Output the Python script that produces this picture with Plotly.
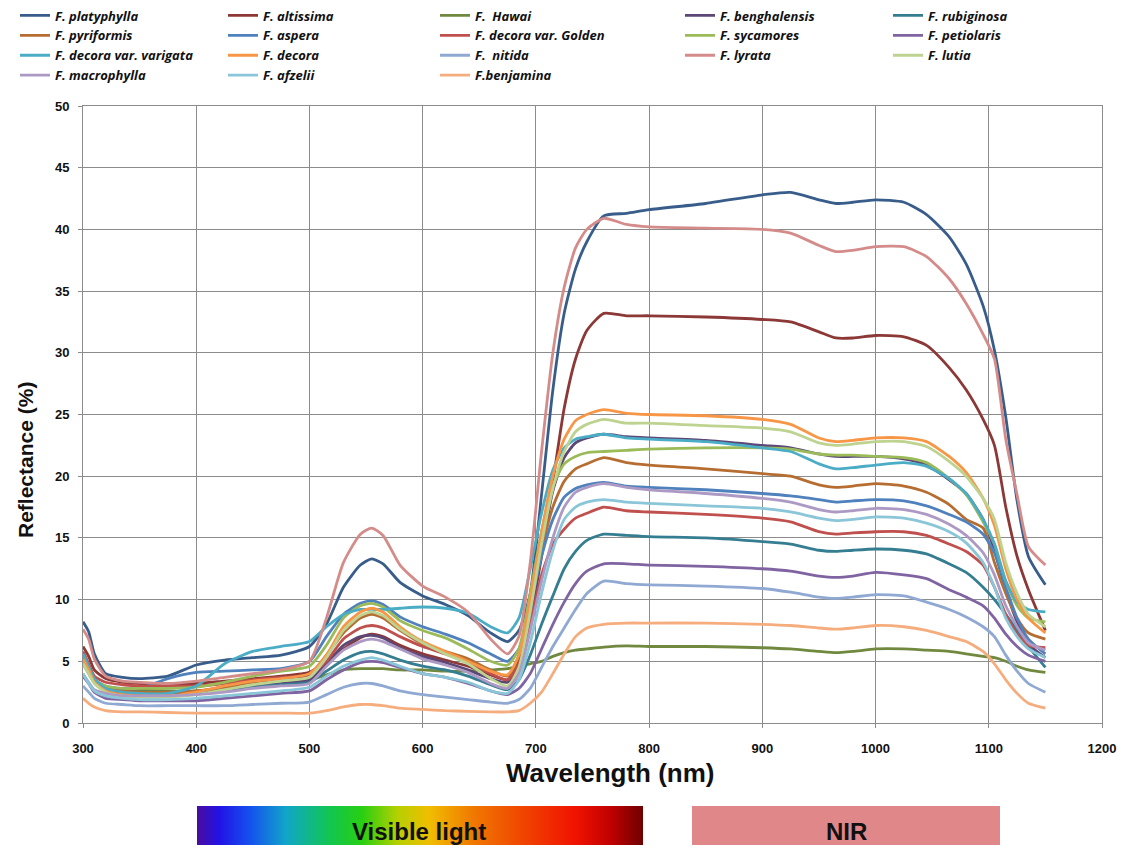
import base64
import plotly.graph_objects as go

# ---------------- data ----------------
wl = [300, 305, 310, 320, 335, 350, 375, 400, 425, 450, 475, 500, 515, 530, 545, 555, 565, 580, 600, 620,
      640, 660, 675, 685, 695, 705, 715, 725, 735, 745, 760, 780, 800, 850, 900, 925, 950, 965, 980, 1000,
      1025, 1045, 1065, 1080, 1095, 1105, 1115, 1125, 1135, 1150]

platyphylla = [8.2, 7.4, 5.6, 4.0, 3.7, 3.6, 3.8, 4.7, 5.1, 5.3, 5.5, 6.2, 8.0, 11.0, 12.8, 13.3, 12.9, 11.4, 10.3, 9.6,
               8.7, 7.3, 6.6, 7.5, 10.5, 18.5, 27.0, 33.2, 36.8, 39.0, 41.1, 41.3, 41.6, 42.1, 42.8, 43.0, 42.4, 42.1, 42.2, 42.4,
               42.2, 41.2, 39.4, 37.2, 33.8, 30.2, 24.8, 18.0, 13.5, 11.2]
altissima = [6.2, 5.4, 4.3, 3.6, 3.3, 3.2, 3.1, 3.2, 3.4, 3.6, 3.8, 4.1, 5.0, 6.0, 6.9, 7.2, 7.0, 6.3, 5.6, 5.1,
             4.6, 3.9, 3.5, 5.0, 8.5, 13.5, 19.5, 25.5, 29.5, 31.8, 33.2, 33.0, 33.0, 32.9, 32.7, 32.5, 31.7, 31.2, 31.2, 31.4,
             31.3, 30.6, 28.8, 27.0, 24.6, 22.5, 17.5, 13.5, 10.8, 7.5]
hawai = [4.8, 4.0, 3.3, 2.9, 2.7, 2.7, 2.6, 2.6, 2.8, 3.0, 3.2, 3.5, 3.9, 4.3, 4.4, 4.4, 4.4, 4.3, 4.3, 4.2,
         4.2, 4.3, 4.4, 4.6, 4.8, 5.0, 5.4, 5.7, 5.9, 6.0, 6.15, 6.25, 6.2, 6.2, 6.1, 6.0, 5.8, 5.7, 5.8, 6.0,
         6.0, 5.9, 5.8, 5.6, 5.4, 5.3, 5.0, 4.6, 4.3, 4.1]
benghalensis = [5.0, 4.2, 3.3, 2.6, 2.4, 2.3, 2.3, 2.4, 2.7, 3.0, 3.2, 3.5, 4.8, 6.3, 7.0, 7.1, 6.9, 6.1, 5.4, 4.9,
                4.3, 3.6, 3.3, 4.6, 8.5, 14.0, 18.8, 21.5, 22.7, 23.1, 23.4, 23.2, 23.1, 22.9, 22.5, 22.3, 21.8, 21.6, 21.6, 21.6,
                21.4, 20.9, 19.7, 18.6, 16.5, 14.0, 10.8, 8.2, 6.4, 5.3]
rubiginosa = [5.3, 4.4, 3.5, 2.8, 2.6, 2.5, 2.5, 2.5, 2.7, 2.9, 3.1, 3.3, 4.2, 5.1, 5.7, 5.8, 5.6, 5.1, 4.6, 4.3,
              3.8, 3.1, 2.7, 3.5, 5.5, 8.0, 10.3, 12.5, 13.9, 14.8, 15.3, 15.2, 15.1, 15.0, 14.7, 14.5, 14.0, 13.9, 14.0, 14.1,
              14.0, 13.7, 12.9, 12.2, 11.0, 10.0, 8.8, 7.5, 6.2, 4.5]
pyriformis = [5.0, 4.2, 3.4, 2.8, 2.6, 2.5, 2.5, 2.6, 2.9, 3.3, 3.6, 3.9, 5.5, 7.3, 8.5, 8.8, 8.5, 7.5, 6.4, 5.8,
              5.2, 4.3, 3.8, 5.5, 9.5, 14.0, 17.5, 19.6, 20.6, 21.0, 21.5, 21.1, 20.9, 20.6, 20.2, 20.0, 19.3, 19.1, 19.2, 19.4,
              19.2, 18.7, 17.7, 16.5, 15.8, 13.0, 10.5, 8.5, 7.3, 6.8]
aspera = [5.0, 4.2, 3.5, 3.0, 2.8, 2.8, 3.6, 4.1, 4.2, 4.3, 4.4, 5.0, 7.0, 8.8, 9.7, 9.9, 9.6, 8.6, 7.8, 7.2,
          6.5, 5.6, 5.0, 6.0, 9.5, 13.5, 16.5, 18.3, 19.0, 19.3, 19.5, 19.2, 19.1, 18.9, 18.6, 18.4, 18.1, 17.9, 18.0, 18.1,
          18.0, 17.6, 16.9, 16.3, 15.3, 13.8, 11.0, 8.5, 6.8, 5.6]
golden = [5.8, 4.8, 3.8, 3.3, 3.1, 3.0, 3.0, 3.0, 3.2, 3.5, 3.7, 3.9, 5.0, 6.8, 7.7, 7.9, 7.7, 7.0, 6.2, 5.6,
          4.9, 4.0, 3.5, 4.8, 8.0, 12.0, 14.5, 15.7, 16.6, 17.0, 17.5, 17.2, 17.1, 16.9, 16.6, 16.3, 15.5, 15.3, 15.4, 15.5,
          15.5, 15.2, 14.5, 13.9, 12.8, 11.0, 8.8, 7.2, 6.3, 6.1]
sycamores = [5.0, 4.2, 3.5, 3.0, 2.8, 2.8, 2.8, 2.9, 3.3, 3.8, 4.2, 4.6, 6.3, 8.5, 9.5, 9.7, 9.4, 8.3, 7.5, 6.9,
             6.0, 5.0, 4.7, 6.0, 10.5, 15.5, 19.2, 21.0, 21.6, 21.9, 22.0, 22.1, 22.2, 22.3, 22.3, 22.2, 21.8, 21.7, 21.7, 21.6,
             21.5, 21.1, 19.8, 18.5, 16.3, 14.5, 11.5, 9.5, 8.5, 8.2]
petiolaris = [3.8, 3.2, 2.5, 2.0, 1.9, 1.8, 1.8, 1.8, 2.0, 2.2, 2.4, 2.6, 3.5, 4.3, 4.9, 5.0, 4.9, 4.5, 4.0, 3.7,
              3.2, 2.6, 2.3, 2.8, 4.0, 6.0, 8.0, 9.8, 11.3, 12.3, 12.9, 12.9, 12.8, 12.7, 12.5, 12.3, 11.9, 11.8, 11.9, 12.2,
              12.0, 11.7, 10.8, 10.2, 9.5, 8.5, 7.2, 6.2, 5.5, 5.0]
varigata = [5.6, 4.6, 3.6, 2.8, 2.5, 2.4, 2.4, 3.0, 4.8, 5.8, 6.2, 6.6, 7.8, 8.8, 9.2, 9.2, 9.2, 9.3, 9.4, 9.3,
            8.9, 7.8, 7.3, 8.5, 12.5, 17.0, 20.5, 22.3, 23.0, 23.2, 23.4, 23.1, 23.0, 22.8, 22.3, 22.0, 21.0, 20.6, 20.7, 20.9,
            21.1, 20.8, 19.8, 18.6, 16.5, 14.5, 11.5, 9.8, 9.2, 9.0]
decora = [5.2, 4.3, 3.3, 2.6, 2.3, 2.2, 2.2, 2.5, 3.0, 3.4, 3.6, 4.0, 5.5, 7.8, 9.0, 9.3, 9.0, 7.8, 6.6, 5.8,
          5.0, 4.2, 3.9, 5.5, 10.0, 15.5, 20.0, 23.0, 24.5, 25.0, 25.4, 25.1, 25.0, 24.9, 24.6, 24.2, 23.1, 22.8, 22.9, 23.1,
          23.1, 22.8, 21.6, 20.3, 18.2, 16.0, 12.5, 10.0, 8.5, 7.3]
nitida = [3.0, 2.5, 2.0, 1.6, 1.5, 1.4, 1.4, 1.4, 1.4, 1.5, 1.6, 1.7, 2.3, 2.9, 3.2, 3.2, 3.0, 2.6, 2.3, 2.1,
          1.9, 1.7, 1.6, 1.9, 2.8, 4.5, 6.2, 7.7, 9.2, 10.5, 11.5, 11.3, 11.2, 11.1, 10.9, 10.6, 10.2, 10.1, 10.2, 10.4,
          10.3, 9.8, 9.2, 8.6, 7.8, 7.0, 5.5, 4.2, 3.2, 2.5]
lyrata = [7.6, 6.8, 5.2, 3.8, 3.4, 3.3, 3.2, 3.4, 3.7, 4.0, 4.3, 5.0, 8.5, 13.0, 15.3, 15.8, 15.2, 12.8, 11.1, 10.2,
          9.0, 6.8, 5.6, 7.0, 13.0, 22.0, 30.0, 35.3, 38.5, 40.0, 40.9, 40.4, 40.2, 40.1, 40.0, 39.7, 38.7, 38.2, 38.3, 38.6,
          38.6, 37.8, 36.0, 34.0, 31.5, 29.5, 23.0, 18.5, 14.3, 12.8]
lutia = [4.8, 4.0, 3.2, 2.5, 2.2, 2.1, 2.1, 2.3, 2.7, 3.1, 3.4, 3.7, 5.3, 7.5, 8.7, 9.0, 8.7, 7.6, 6.5, 5.6,
         4.8, 3.6, 3.0, 4.5, 9.0, 14.5, 19.0, 22.0, 23.6, 24.2, 24.6, 24.3, 24.3, 24.1, 23.9, 23.6, 22.7, 22.5, 22.6, 22.8,
         22.8, 22.4, 21.2, 20.0, 18.2, 16.5, 13.0, 10.5, 8.8, 7.8]
macrophylla = [4.0, 3.3, 2.7, 2.4, 2.2, 2.2, 2.2, 2.3, 2.5, 2.8, 3.0, 3.2, 4.6, 5.9, 6.6, 6.8, 6.6, 6.0, 5.2, 4.7,
               4.1, 3.2, 2.8, 4.0, 7.5, 11.5, 15.0, 17.5, 18.7, 19.1, 19.4, 19.1, 18.9, 18.6, 18.2, 17.9, 17.3, 17.1, 17.2, 17.4,
               17.3, 16.9, 16.1, 15.2, 13.8, 12.0, 9.5, 7.8, 6.5, 5.9]
afzelii = [4.0, 3.2, 2.6, 2.2, 2.0, 1.9, 1.9, 2.0, 2.2, 2.4, 2.6, 2.9, 3.8, 4.6, 5.1, 5.3, 5.1, 4.6, 4.0, 3.7,
           3.3, 2.6, 2.4, 3.5, 6.5, 10.5, 14.0, 16.5, 17.5, 17.9, 18.1, 17.9, 17.8, 17.6, 17.4, 17.1, 16.6, 16.4, 16.5, 16.7,
           16.6, 16.2, 15.5, 14.6, 13.0, 11.0, 8.5, 7.0, 6.0, 5.3]
benjamina = [2.0, 1.6, 1.3, 1.0, 0.9, 0.9, 0.85, 0.8, 0.8, 0.8, 0.8, 0.8, 1.0, 1.3, 1.5, 1.5, 1.4, 1.2, 1.1, 1.0,
             0.95, 0.9, 0.9, 1.0, 1.6, 2.5, 4.0, 5.6, 7.0, 7.7, 8.0, 8.1, 8.1, 8.1, 8.0, 7.9, 7.7, 7.6, 7.7, 7.9,
             7.8, 7.5, 7.0, 6.6, 5.8, 4.8, 3.5, 2.4, 1.6, 1.2]

series_names = ["F. platyphylla", "F. altissima", "F.  Hawai", "F. benghalensis", "F. rubiginosa",
                "F. pyriformis", "F. aspera", "F. decora var. Golden", "F. sycamores", "F. petiolaris",
                "F. decora var. varigata", "F. decora", "F.  nitida", "F. lyrata", "F. lutia",
                "F. macrophylla", "F. afzelii", "F.benjamina"]
series_values = [platyphylla, altissima, hawai, benghalensis, rubiginosa,
                 pyriformis, aspera, golden, sycamores, petiolaris,
                 varigata, decora, nitida, lyrata, lutia,
                 macrophylla, afzelii, benjamina]
series_colors = ["#385D8A", "#8C3836", "#71893F", "#5C4776", "#357D91",
                 "#B66D31", "#4F81BD", "#C0504D", "#9BBB59", "#8064A2",
                 "#4BACC6", "#F79646", "#8FA9D2", "#D48C8A", "#BDD38F",
                 "#AD9AC4", "#8AC6D8", "#F5AD7E"]

x_ticks = [300, 400, 500, 600, 700, 800, 900, 1000, 1100, 1200]
y_ticks = [0, 5, 10, 15, 20, 25, 30, 35, 40, 45, 50]

for v in series_values:
    assert len(v) == len(wl)

# ---------------- figure ----------------
FONT = "Liberation Sans, Arial, sans-serif"
LEG_FONT = "Open Sans, Liberation Sans, sans-serif"
N_COLS = 5
legend_ids = ["legend", "legend2", "legend3", "legend4", "legend5"]
legend_col_px = [15, 223, 435, 680, 888]   # left edge of each legend column (page px)

fig = go.Figure()
for i, (name, vals, col) in enumerate(zip(series_names, series_values, series_colors)):
    fig.add_trace(go.Scatter(x=wl, y=vals, name=name, mode="lines", legend=legend_ids[i % N_COLS],
                             line=dict(color=col, width=2.8, shape="spline", smoothing=0.6)))

OFF = 8  # page body margin
W, H = 1128 - 2 * OFF, 853 - 2 * OFF
ML, MT = 83 - OFF, 106 - OFF
MR = W - (1102 - OFF)
MB = H - (723 - OFF)
pw, ph = W - ML - MR, H - MT - MB


def px_x(p):
    return (p - OFF - ML) / pw


def px_y(p):
    return (H - MB - (p - OFF)) / ph


# gradient bar (visible light) as SVG image
stops = [(0.0, "#4B0C9E"), (0.05, "#2212E6"), (0.12, "#1452EE"), (0.2, "#10A6C8"), (0.3, "#12C64E"),
         (0.37, "#28CF12"), (0.45, "#B6D000"), (0.52, "#F0BE00"), (0.62, "#F07800"), (0.75, "#F03C00"),
         (0.85, "#F01200"), (0.93, "#BE0000"), (1.0, "#6E0000")]
stop_xml = "".join(f'<stop offset="{o}" stop-color="{c}"/>' for o, c in stops)
svg = ('<svg xmlns="http://www.w3.org/2000/svg" width="446" height="46" viewBox="0 0 446 46" '
       'preserveAspectRatio="none"><defs><linearGradient id="g" x1="0" y1="0" x2="1" y2="0">'
       + stop_xml + '</linearGradient></defs><rect width="446" height="46" fill="url(#g)"/></svg>')
src = "data:image/svg+xml;base64," + base64.b64encode(svg.encode()).decode()

vx0, vx1, nx0, nx1 = 197, 643, 692, 1000
by0, by1 = 806, 852
fig.add_layout_image(dict(source=src, xref="paper", yref="paper", x=px_x(vx0), y=px_y(by0),
                          sizex=px_x(vx1) - px_x(vx0), sizey=px_y(by0) - px_y(by1),
                          xanchor="left", yanchor="top", sizing="stretch", layer="above"))
fig.add_shape(type="rect", xref="paper", yref="paper", x0=px_x(nx0), x1=px_x(nx1),
              y0=px_y(by1), y1=px_y(by0), fillcolor="#E0878A", line=dict(width=0))
fig.add_annotation(text="<b>Visible light</b>", xref="paper", yref="paper", x=px_x(419), y=px_y(831),
                   xanchor="center", yanchor="middle",
                   showarrow=False, font=dict(family=FONT, size=24, color="#111111"))
fig.add_annotation(text="<b>NIR</b>", xref="paper", yref="paper", x=px_x(846), y=px_y(831),
                   xanchor="center", yanchor="middle",
                   showarrow=False, font=dict(family=FONT, size=24, color="#111111"))
# axis titles (placed where the reference puts them)
fig.add_annotation(text="<b>Wavelength (nm)</b>", xref="paper", yref="paper", x=px_x(610), y=px_y(773),
                   xanchor="center", yanchor="middle",
                   showarrow=False, font=dict(family=FONT, size=26, color="#111111"))
fig.add_annotation(text="<b>Reflectance (%)</b>", xref="paper", yref="paper", x=px_x(25), y=px_y(460),
                   xanchor="center", yanchor="middle", textangle=-90,
                   showarrow=False, font=dict(family=FONT, size=21, color="#111111"))

legend_style = dict(orientation="v", xanchor="left", yanchor="top", itemwidth=30, tracegroupgap=0,
                    font=dict(family=LEG_FONT, size=13, color="#111111", weight="bold", style="italic"),
                    bgcolor="rgba(0,0,0,0)", traceorder="normal")
legends = {lid: dict(x=px_x(xp), y=px_y(0.5), **legend_style) for lid, xp in zip(legend_ids, legend_col_px)}

fig.update_layout(
    width=W, height=H,
    margin=dict(l=ML, r=MR, t=MT, b=MB, autoexpand=False),
    paper_bgcolor="white", plot_bgcolor="white",
    font=dict(family=FONT, color="#111111"),
    showlegend=True,
    **legends,
    xaxis=dict(range=[300, 1200], tickvals=x_ticks, showgrid=True, gridcolor="#8C8C8C", gridwidth=1,
               showline=True, linecolor="#8C8C8C", linewidth=1, mirror=True, ticks="outside", ticklen=4,
               tickcolor="#8C8C8C", zeroline=False, ticklabelstandoff=9,
               tickfont=dict(family=FONT, size=13, color="#111111", weight="bold")),
    yaxis=dict(range=[0, 50], tickvals=y_ticks, showgrid=True, gridcolor="#8C8C8C", gridwidth=1,
               showline=True, linecolor="#8C8C8C", linewidth=1, mirror=True, ticks="outside", ticklen=4,
               tickcolor="#8C8C8C", zeroline=False, ticklabelstandoff=6,
               tickfont=dict(family=FONT, size=13, color="#111111", weight="bold")),
)

fig.write_html("out.html")
